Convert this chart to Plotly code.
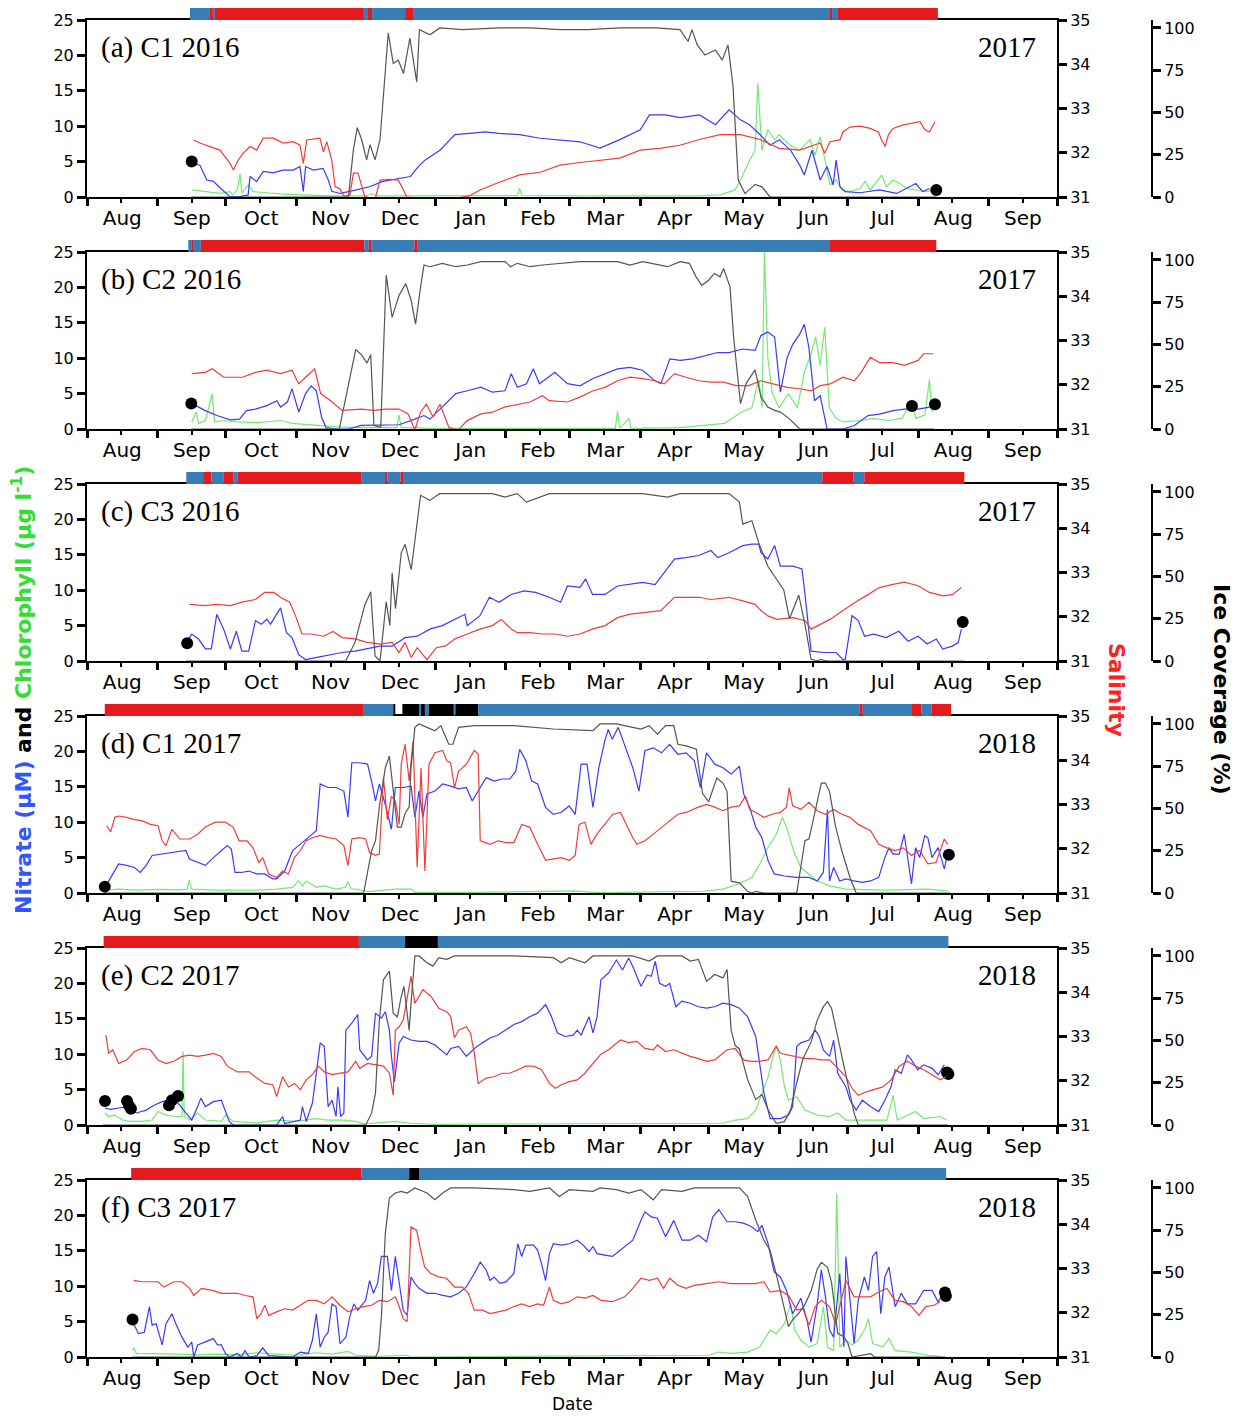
import plotly.graph_objects as go
import pandas as pd

W, H = 1244, 1416
PLOT_L, PLOT_R = 87, 1057
ICE_X = 1152
TOPS = [20, 252, 484, 716, 948, 1180]
PH = 177

NO3_C = "#3a3aff"
SAL_C = "#f03c3c"
CHL_C = "#72ea72"
ICE_C = "#555555"
BAR_COL = {"r": "#e41a1c", "b": "#377eb8", "k": "#000000"}

# ---------------- data: (days since 1 Aug of first year, value) ----------------
# ---- (a) C1 2016 ----
A_NO3 = [(46,4.8),(49.6,4.5),(52.6,2.4),(55.5,2.2),(58.4,1.3),(62.8,0.05),(67,0.05),(70.8,0.3),(71.6,2.9),(74.5,2.2),(77.4,3.6),(81.8,3.4),(86,3.8),(90.6,3.8),(93.5,4.3),(95,0.8),(96,4.3),(99.4,3.8),(103.7,4.05),(106,2.4),(107.5,0.8),(111,0.5),(115.5,0.8),(120,1.2),(124,1.45),(130,2.2),(137.5,2.6),(142,2.9),(145.5,4.3),(148.4,5.2),(155,6.6),(161.6,8.8),(168,9.0),(174.8,9.2),(181,9.0),(190,8.8),(199,8.3),(207.7,8.1),(216.5,7.8),(225.3,6.9),(234,8.1),(243,9.5),(247,11.6),(254,11.6),(260.5,11.2),(269,11.6),(276,10.2),(282,12.3),(287,10.9),(291,10.2),(295.6,8.8),(300,7.3),(304,8.1),(309,6.6),(313,4.5),(315,3.1),(318.4,6.6),(322,2.4),(325,4.3),(327.7,1.7),(329,5.2),(330.7,1.45),(333,0.75),(339.5,0.6),(348,1.0),(355.6,0.5),(364,1.9),(367,0.75),(370,1.2)]
A_SAL = [(46.7,32.29),(49.6,32.22),(54,32.14),(58.4,32.06),(62.8,31.76),(64.3,31.61),(66.4,31.83),(68.6,31.99),(71.6,32.14),(74.5,32.06),(77.4,32.33),(81.8,32.33),(86.2,32.22),(90.6,32.25),(93.5,32.17),(95,31.76),(96.5,32.29),(102.3,32.33),(103.8,32.02),(105.3,32.25),(107.5,31.83),(109,31.23),(111,31.19),(113,31.01),(115.5,31.05),(117,31.54),(119,31.54),(120.6,31.23),(122,31.01),(126.5,30.95),(128.7,31.38),(133,31.40),(136.7,31.38),(139,31.16),(140.4,31.0),(150,30.95),(160,30.95),(168,31.03),(172.6,31.16),(181.4,31.34),(190,31.50),(199,31.56),(207.7,31.72),(216.5,31.78),(225.3,31.83),(234,31.88),(243,32.06),(251.6,32.10),(260.4,32.17),(269,32.30),(278,32.41),(287,32.41),(295.6,32.30),(304,32.10),(313,32.06),(319.7,32.17),(322,32.22),(324,31.99),(326.3,32.25),(330.7,32.29),(332,32.47),(335,32.58),(339.5,32.60),(344,32.55),(347.5,32.47),(349,32.29),(350.5,32.14),(352,32.41),(354,32.55),(358.5,32.63),(363,32.68),(365.8,32.70),(368,32.52),(370,32.47),(372.4,32.70)]
A_ICE = [(46,0),(114.8,0),(117,28),(118.7,41),(120.6,34),(122.8,22),(124.3,31),(126.5,22),(128.7,34),(131,77),(132.3,97),(134.5,79),(136.7,81),(139,73),(141.8,94),(144.8,68),(146,99),(150.6,96),(155,100),(165,99),(181,100),(195,100),(207.7,99),(220,99),(234,100),(250,100),(260.4,99),(264,92),(265.7,99),(268,90),(271.4,84),(276,87),(279,81),(281.5,90),(283.7,66),(286,10),(289,2),(293.4,7.5),(296.4,6),(300,0),(373,0)]
A_CHL = [(46,1.0),(52.6,0.75),(58.4,0.5),(62.8,0.75),(64,0.3),(66,1.0),(67.2,3.3),(68,0.5),(69.4,1.2),(70.8,1.7),(73,0.75),(79,0.6),(86,0.4),(93.5,0.3),(108,0.15),(122.8,0.15),(125,0.5),(127,0.15),(144.8,0.15),(170,0.15),(189,0.2),(190,1.2),(191,0.2),(230,0.15),(269,0.15),(278,0.3),(284.6,1.0),(287,2.4),(289,3.8),(291,5.2),(293.4,6.6),(294.6,16.1),(296.4,6.6),(299,9.5),(302,8.1),(304,8.8),(308.7,7.3),(313,6.6),(317.5,8.1),(319.7,5.9),(322,8.5),(323.4,6.2),(325,3.4),(326.3,1.7),(329,2.4),(331.4,1.0),(335,0.75),(339.5,1.2),(341.7,2.2),(344,1.0),(349,3.1),(351,1.45),(354,2.4),(357,1.9),(360,1.2),(364.4,1.0),(368.7,0.75),(371.7,1.0)]
A_DOTS = [(46,5.0),(373,1.0)]
A_BAR = [("b",45.2,54),("r",54,55.3),("b",55.3,56.2),("r",56.2,121.6),("b",121.6,123.4),("r",123.4,125.2),("b",125.2,139.7),("r",139.7,143.2),("b",143.2,326.3),("r",326.3,327.2),("b",327.2,329.8),("r",329.8,373.7)]

# ---- (b) C2 2016 ----
B_NO3 = [(47.8,3.3),(52,2.6),(57,1.9),(63,1.3),(67,1.4),(70,2.6),(74,2.8),(79,3.3),(83.4,4.0),(85,3.1),(88,3.8),(90,5.7),(93,2.4),(96,5.0),(98.5,6.1),(100.7,5.4),(103,1.7),(105,0.2),(109.5,0),(115,0),(120.4,0.5),(129,0.5),(137,0.6),(144,1.4),(148,1.9),(150.6,1.4),(156,3.1),(162,5.0),(167,5.4),(173,5.9),(178,5.2),(183.6,5.4),(186.3,7.8),(189,5.9),(193,6.4),(196,8.5),(198.7,6.4),(205.5,8.0),(211,6.4),(216.5,6.1),(222,7.1),(227.5,7.8),(233,8.5),(238.5,8.7),(244,8.3),(249.5,6.8),(252,6.4),(256,9.9),(260.5,9.7),(266,9.9),(271.5,10.4),(277,10.8),(282,10.8),(288,11.3),(293.4,11.1),(296,13.2),(299,13.7),(302,13.0),(304.5,5.2),(307.5,10.1),(310,12.0),(313,13.4),(315,14.8),(317,11.6),(319.5,4.0),(322,4.7),(325,0),(332,0),(337,0.5),(343,1.9),(348,2.1),(354,2.6),(359,2.8),(365,2.8),(370,3.1)]
B_SAL = [(46,32.25),(52,32.28),(55,32.36),(60,32.17),(68.3,32.17),(74,32.28),(79,32.33),(85,32.25),(90,32.33),(93,32.02),(96,32.17),(100,32.36),(102.6,31.80),(107,31.64),(112,31.42),(120.5,31.45),(126,31.42),(131.4,31.45),(137,31.45),(141,31.34),(144,30.98),(146.5,31.38),(149,31.56),(152,31.27),(155,31.56),(159,31.03),(163,30.98),(167,31.19),(173,31.34),(178,31.38),(183.6,31.50),(189,31.56),(194.6,31.61),(200,31.75),(203,31.64),(211,31.61),(216.5,31.72),(222,31.86),(227.5,31.94),(233,32.09),(238.5,32.17),(244,32.14),(249.5,32.09),(253.6,32.02),(258,32.25),(263,32.17),(268.7,32.09),(274,32.06),(279.6,32.06),(285,31.98),(290.6,31.98),(296,32.09),(302,32.02),(307.5,31.94),(313,31.91),(318,31.86),(322,31.98),(326.5,32.02),(332,32.17),(337,32.09),(340,32.28),(344,32.62),(348,32.50),(354,32.50),(359,32.44),(365,32.55),(367.5,32.70),(371.6,32.70)]
B_ICE = [(46,0),(110.8,0),(118,47),(120.5,44),(123,39),(124.6,44),(126,2),(129,1),(131.4,91),(134,66),(137,79),(140,86),(142.4,76),(144.3,62),(146.5,84),(148,97),(150.6,96),(156,98),(162,96),(167,97),(173,99),(183.6,99),(186,96),(189,98),(194.6,96),(200,97),(216.5,99),(233,99),(238.5,97),(244,99),(255,96),(260.5,99),(264.5,98),(267.5,90),(270,85),(273,88),(275.5,92),(278,90),(279.6,95),(282.4,84),(284,54),(287,15),(289.5,27),(293.4,35),(296,19),(299,13),(302,11),(304.5,10),(308.5,6),(313,0),(372,0)]
B_CHL = [(46,1.0),(48,2.4),(49,0.8),(52,1.2),(55,5.0),(56,1.0),(60,1.2),(66,1.0),(75,0.9),(85,1.2),(90,0.8),(100,0.5),(110,0.3),(120,0.2),(136,0.2),(137,2.0),(138,0.2),(145,0.2),(150,0.1),(200,0.1),(232,0.1),(233,2.5),(234,0.1),(238,1.5),(239,0.1),(260,0.2),(271,0.5),(280,0.8),(288,2.5),(292,3.0),(295,7.0),(296.5,3.0),(297.5,25),(299,10),(301,5),(304,3),(308,5),(312,3),(315,8),(318,10.6),(320,13),(322,9),(324,14.4),(326,3),(329,1.5),(332,1.0),(340,1.2),(345,1.5),(352,1.2),(358,1.5),(362,4.0),(364,1.5),(368,2.0),(370,7.0),(371,2.5),(373,3.0)]
B_DOTS = [(45.8,3.6),(362.3,3.25),(372.4,3.5)]
B_BAR = [("b",44.5,45.8),("r",45.8,46.9),("b",46.9,50),("r",50,121.8),("b",121.8,123.7),("r",123.7,124.8),("b",124.8,143.8),("r",143.8,145),("b",145,326.3),("r",326.3,373)]

# ---- (c) C3 2016 ----
C_NO3 = [(43.6,2.6),(46,3.8),(49,3.1),(52,1.7),(54.6,1.7),(57,6.6),(60,4.5),(63,1.7),(65.6,4.2),(68,1.4),(71,1.4),(74,5.7),(76.6,5.2),(79,5.9),(80.6,5.2),(85,7.5),(87.6,4.0),(90,3.3),(93,0.9),(96,0.2),(101,0.5),(107,0.9),(112,1.2),(117.7,1.4),(123,1.7),(128.7,2.1),(134,2.1),(139.7,3.3),(145,3.5),(150.6,4.5),(156,5.0),(161.6,5.9),(166,6.6),(167,5.0),(172.6,6.4),(176.7,9.0),(181,8.3),(186.3,9.4),(192,9.9),(197,9.7),(203,9.0),(208,8.3),(211,10.6),(216.5,10.4),(219,11.6),(222,9.4),(227.5,9.4),(233,10.6),(238.5,10.8),(244,11.1),(249.5,10.8),(253.6,12.5),(258,14.4),(263,14.6),(268.7,14.9),(274,15.6),(277,14.6),(282,15.3),(288,16.3),(292,16.5),(295,16.5),(296,15.3),(299,14.4),(302,16.3),(304.5,13.4),(310,13.4),(314,13.0),(315.4,9.2),(318,1.4),(323.6,1.2),(329,1.2),(332,0.2),(333,0.2),(336,6.4),(338.7,5.7),(341.5,3.5),(345.5,3.8),(351,3.3),(356.5,4.2),(360.6,2.8),(365,3.5),(369,2.4),(373,3.1),(375.8,1.7),(380,2.1),(382.6,2.6),(384,4.5)]
C_SAL = [(45,32.28),(52,32.25),(57,32.28),(63,32.25),(68,32.33),(74,32.39),(78,32.55),(82,32.55),(85,32.44),(89,32.33),(91.6,32.02),(94.4,31.61),(98.5,31.61),(104,31.56),(108,31.67),(112,31.53),(117.7,31.50),(123,31.42),(128.7,31.38),(134,31.42),(137,31.19),(139.7,31.42),(142.4,31.08),(145,31.30),(149.3,31.03),(153.4,31.30),(157.5,31.34),(161.6,31.50),(167,31.61),(172.6,31.72),(178,31.80),(182,31.94),(186.3,31.72),(189,31.64),(194.6,31.64),(200,31.61),(205.5,31.61),(211,31.56),(216.5,31.61),(222,31.72),(227.5,31.80),(233,31.98),(238.5,32.06),(244,32.09),(252,32.14),(258,32.44),(263,32.44),(268.7,32.44),(274,32.39),(282,32.44),(288,32.36),(293.4,32.28),(296,32.14),(299,32.02),(303,31.94),(310,31.98),(315.4,31.91),(318,31.72),(321,31.80),(326.3,31.94),(332,32.14),(337.4,32.33),(343,32.50),(348,32.66),(354,32.73),(359,32.78),(365,32.70),(370,32.55),(375.8,32.47),(380,32.50),(384,32.66)]
C_ICE = [(43.6,0),(113.6,0),(117.7,11),(122,33),(124.6,41),(126.5,3),(128.7,0),(131.4,35),(133,21),(134,52),(135.5,31),(138,64),(139.7,69),(142.4,54),(146.5,98),(150.6,95),(154.8,99),(161.6,99),(178,99),(183.6,97),(189,99),(193,94),(198.7,97),(203,99),(244,99),(255,97),(260.5,99),(282,99),(286.5,94),(288,81),(292,83),(295,70),(299,56),(302,50),(306,42),(308.5,25),(312.6,39),(315.4,21),(318,1),(321,0),(322,1),(325,0),(385,0)]
C_CHL = []
C_DOTS = [(44,2.5),(384.6,5.5)]
C_BAR = [("b",43.6,51),("r",51,54.6),("b",54.6,60.1),("r",60.1,64.2),("b",64.2,66.1),("r",66.1,120.4),("b",120.4,130.9),("r",130.9,132),("b",132,137.7),("r",137.7,138.8),("b",138.8,323),("r",323,336.7),("b",336.7,341.4),("r",341.4,385.3)]

# ---- (d) C1 2017 ----
D_NO3 = [(8.3,1.0),(10.4,2.2),(13.9,4.1),(17.4,3.9),(20.8,3.6),(23.4,2.9),(26,3.9),(28.6,5.3),(33,5.5),(38.2,5.7),(43.4,6.0),(45,4.8),(48.6,4.3),(52,3.9),(55.5,5.0),(59,6.0),(61.6,6.7),(63.4,6.2),(65,2.9),(67.7,2.9),(71,3.1),(74.6,2.7),(78,2.7),(81.6,2.0),(83.3,2.0),(86.8,3.1),(90.3,6.0),(93.7,6.9),(97.2,7.8),(100.7,8.8),(102.4,15.4),(105.9,14.9),(109.4,14.9),(112.8,14.4),(114.6,10.7),(116.3,18.4),(119.8,18.4),(123.2,18.2),(125,15.8),(126.7,13.0),(128.4,15.4),(131,12.5),(133.7,9.0),(135.4,14.9),(138.9,14.9),(142.3,15.1),(144,10.7),(145.8,14.4),(147.5,10.7),(149.3,14.0),(152.8,14.4),(156.2,15.4),(159.7,15.1),(163.2,14.7),(166.6,14.9),(169.2,13.0),(171.8,14.4),(175.3,16.3),(178.8,15.8),(182.3,16.1),(185.7,16.1),(188.3,17.2),(190,20.3),(192.7,18.7),(195.3,15.8),(197.9,15.4),(201.4,12.1),(204.8,11.1),(208.3,11.4),(211.8,12.3),(214.4,11.1),(217,18.2),(219.6,18.2),(222.2,12.1),(224.8,17.7),(227.4,21.5),(228.9,23.1),(230.7,21.7),(233.3,23.4),(236,21.0),(239.7,17.7),(242.4,14.4),(245,20.1),(248.7,20.5),(252.3,19.8),(255.9,21.0),(259.5,19.6),(263.1,19.8),(266.7,18.7),(269.4,14.9),(272.1,19.8),(275.7,18.2),(279.3,17.7),(282.9,16.8),(286.5,17.9),(288.4,14.0),(291,12.1),(293.7,9.3),(296.4,7.8),(299.1,4.6),(301.8,2.7),(306.3,2.4),(311.7,2.2),(317.1,2.2),(320.7,1.7),(323.4,2.9),(325.2,11.8),(326.1,1.7),(327.9,3.6),(330.6,1.7),(333.3,2.0),(336.9,1.7),(340.5,1.5),(344.1,1.7),(347.7,2.2),(350.4,5.0),(352.2,6.4),(354,5.5),(356.7,5.5),(358.9,8.3),(360.3,5.0),(362.1,1.3),(363.9,6.4),(365.7,5.0),(367.9,8.1),(369.3,7.8),(371.1,5.0),(373.8,6.4),(376.5,3.4),(378,5.5)]
D_SAL = [(8.7,32.52),(10.4,32.38),(12.2,32.71),(13.9,32.74),(17.4,32.71),(20.8,32.66),(24.3,32.63),(27.8,32.55),(31.2,32.52),(33,32.18),(34.7,32.07),(37.3,32.44),(40.8,32.22),(45.1,32.22),(48.6,32.33),(52,32.49),(56.4,32.60),(60.8,32.60),(64.2,32.49),(66.8,32.18),(70.3,32.18),(72.9,32.02),(75.5,31.69),(77.2,31.80),(79.8,31.43),(83.3,31.35),(85.9,31.50),(88.5,31.43),(91.1,31.80),(93.7,31.96),(96.3,32.18),(99,32.25),(102.4,32.30),(105.9,32.25),(109.4,32.22),(112.8,32.07),(114.6,31.62),(116.3,32.22),(119.8,32.25),(122.4,32.22),(124.1,31.91),(126.7,31.85),(128.4,31.88),(130.2,33.61),(131.9,32.66),(133.7,33.19),(135.4,33.08),(137.1,32.55),(138,33.91),(139.7,34.36),(141.5,33.53),(143.2,34.44),(145,31.58),(145.8,32.63),(146.7,33.83),(148.4,31.50),(150.2,33.91),(152.8,34.17),(156.2,34.22),(158,33.99),(159.7,33.94),(161.4,33.38),(163.2,33.75),(166.6,33.91),(170.1,34.22),(171.8,34.14),(172.7,32.18),(177,32.10),(180.5,32.18),(184,32.14),(187.5,32.14),(190.9,32.55),(194.4,32.49),(197.9,32.10),(201.4,31.74),(204.8,31.77),(208.3,31.80),(211.8,31.74),(214.4,31.85),(216.1,32.55),(218.7,32.60),(221.3,32.10),(223.9,32.33),(227.4,32.55),(230.9,32.78),(234.3,32.82),(236,32.63),(239.7,32.25),(241.5,32.10),(245,32.18),(248.7,32.33),(252.3,32.49),(255.9,32.63),(259.5,32.78),(263.1,32.82),(268.5,32.94),(272.1,33.0),(275.7,32.94),(279.3,32.86),(282.9,32.94),(286.5,32.97),(289.2,33.19),(291,32.89),(293.7,32.82),(297.3,32.71),(300.9,32.78),(304.5,32.82),(307.2,32.94),(308.4,33.38),(309.9,32.97),(313.5,32.89),(317.1,33.05),(320.7,32.86),(324.3,32.78),(327.9,32.89),(331.5,32.78),(335.1,32.71),(338.7,32.55),(344.1,32.41),(347.7,32.10),(351.3,32.02),(354.9,31.96),(358.5,32.02),(362.1,31.85),(365.7,31.96),(369.3,31.66),(372.9,31.69),(376.5,32.22),(378,32.10)]
D_ICE = [(8,0),(121.5,0),(125,25),(126.7,31),(128.4,51),(131,74),(132.8,81),(134.5,60),(136.3,39),(138,39),(139.7,47),(141.5,51),(142.3,74),(144,98),(145.8,100),(149.3,98),(152.8,96),(155.4,99),(158.9,88),(160.7,88),(163.2,98),(170.1,99),(187.5,99),(204.8,97),(222.2,96),(225.3,100),(232.5,100),(239.7,98),(243.3,97),(246.9,99),(250.5,94),(254.1,99),(257.7,99),(259.5,88),(263.1,87),(267.6,85),(270.3,59),(273,54),(276.6,68),(279.3,65),(281.1,60),(282.9,7),(286.5,6),(290.1,1),(291.9,0),(293.7,1),(297.3,0),(311.7,0),(313.5,15),(315.3,31),(317.1,32),(318.9,43),(322.5,65),(324.3,65),(326.1,60),(328.8,39),(331.5,25),(335.1,9),(337.8,0),(379,0)]
D_CHL = [(8.3,0.4),(13.9,0.55),(22.6,0.4),(31.2,0.5),(40,0.45),(44,0.5),(44.8,1.8),(46,0.55),(57.3,0.4),(66,0.4),(74.6,0.4),(83.3,0.55),(90.3,0.8),(92.9,1.7),(94.6,1.0),(96.3,1.7),(100.7,0.8),(104.2,1.0),(109.4,0.55),(113.5,0.8),(114.6,1.6),(116,0.6),(118,0.55),(123.2,0.2),(135.4,0.55),(142.3,0.55),(144,0.1),(170,0.1),(213.5,0.3),(225,0.05),(270.3,0.25),(279.3,0.55),(286.5,1.3),(292,2.2),(295.5,4.1),(299,6.4),(302.7,8.3),(305.4,10.7),(307.2,9.3),(309,7.4),(310.8,5.5),(313.5,3.6),(317.1,2.7),(320.7,1.7),(326.1,1.0),(333.3,0.55),(351.3,0.4),(369.3,0.55),(378,0.3)]
D_DOTS = [(7.8,0.9),(378.5,5.4)]
D_BAR = [("r",7.8,121.2),("b",121.2,134.5),("k",134.5,135.4),("k",138.5,145.8),("b",145.8,146.7),("k",146.7,148.4),("b",148.4,150.1),("k",150.1,161.1),("b",161.1,161.8),("k",161.8,171.8),("b",171.8,339.3),("r",339.3,340.7),("b",340.7,362.3),("r",362.3,366.5),("b",366.5,371),("r",371,379.5)]

# ---- (e) C2 2017 ----
E_NO3 = [(7.8,2.4),(10.4,2.2),(13.9,2.4),(17.4,2.6),(21.7,1.7),(26,2.1),(29.5,2.8),(33,3.3),(36.5,3.5),(40,3.1),(43.4,1.7),(46,0.7),(48.6,2.6),(50,3.8),(52,2.6),(55.5,3.3),(59,3.5),(60.8,1.9),(62.5,0.5),(64.2,0),(83.3,0),(85.9,1.2),(86.8,0.2),(93.7,0.7),(94.6,2.6),(96.3,0.5),(99,3.1),(100.7,7.3),(102.4,11.6),(104.2,11.1),(105.9,2.6),(107.6,3.5),(109.4,1.2),(110.2,5.4),(111.4,1.2),(112.8,1.7),(113.7,13.4),(116.3,14.4),(118.9,15.6),(119.8,10.6),(123.2,9.2),(125,9.7),(126.7,15.8),(129.3,15.1),(131,16.0),(132.8,13.4),(133.7,9.7),(135,6.1),(137.1,11.6),(138.9,12.5),(142.3,12.0),(145.8,11.8),(149.3,11.8),(152.8,11.3),(156.2,10.4),(158,9.9),(159.7,10.8),(163.2,11.1),(166.6,9.7),(170.1,10.8),(173.6,11.6),(177,12.3),(180.5,12.7),(184,13.4),(187.5,14.2),(190.9,14.6),(194.4,15.3),(197.9,15.8),(201.4,17.0),(204,15.3),(206.6,13.0),(210,12.5),(213.5,12.7),(215.3,13.4),(217,12.7),(220.5,15.3),(222.2,13.0),(224,15.3),(225.7,20.5),(229.1,21.5),(232.5,23.3),(235.2,21.9),(237.9,23.6),(239.7,22.4),(243.3,19.6),(246,21.2),(247.8,21.0),(249.6,23.1),(251.4,20.0),(254.1,19.6),(255.9,20.0),(258.6,16.7),(261.3,17.5),(264.9,17.2),(268.5,16.7),(272.1,16.5),(275.7,16.7),(279.3,17.2),(282.9,17.0),(286.5,16.5),(290.1,15.3),(293.7,12.5),(295.5,8.3),(297.3,4.5),(300,0.9),(304.5,0.9),(308.1,1.4),(309.9,2.6),(311.7,11.1),(313.5,11.6),(317.1,12.0),(319.8,13.4),(321.6,12.5),(323.4,10.6),(326.1,9.7),(327.9,12.0),(329.7,7.3),(333.3,5.4),(335.1,3.5),(337.8,2.1),(340.5,3.5),(344.1,2.6),(347.7,1.9),(350.4,3.5),(353.1,5.4),(354.9,7.8),(357.6,7.3),(360.3,9.9),(362.1,9.2),(364.8,7.8),(367.5,8.5),(371.1,8.0),(373.8,7.1),(376.5,8.5)]
E_SAL = [(8.3,33.03),(9.5,32.62),(11.3,32.70),(13.9,32.39),(17.4,32.47),(20.8,32.66),(24.3,32.73),(27.8,32.70),(31.2,32.47),(34.7,32.39),(38.2,32.44),(41.7,32.55),(45.1,32.58),(48.6,32.55),(52,32.58),(55.5,32.62),(59,32.55),(61.6,32.33),(66,32.20),(71.2,32.20),(74.6,32.06),(78.1,31.94),(81.6,31.91),(83.3,31.64),(85.9,32.09),(88.5,31.86),(91.1,31.94),(93.7,31.80),(96.3,32.02),(99,32.14),(101.6,32.33),(104.2,32.20),(107.6,32.14),(111.1,32.17),(114.6,32.20),(118,32.44),(119.8,32.28),(123.2,32.39),(126.7,32.36),(130.2,32.33),(132.8,32.17),(134.5,31.67),(135.4,33.14),(137.1,33.22),(138.9,33.38),(142.3,34.36),(144,33.75),(147.5,34.06),(151,33.91),(154.5,33.64),(158,33.56),(159.7,33.45),(161.4,32.97),(163.2,33.14),(166.6,33.22),(168.4,33.08),(170.1,32.62),(171.8,31.94),(175.3,32.06),(178.8,32.09),(182.3,32.17),(185.7,32.17),(189.2,32.25),(192.7,32.33),(196.1,32.33),(199.6,32.25),(203.1,31.94),(205.7,31.83),(208.3,31.91),(211.8,31.98),(215.3,32.02),(218.7,32.17),(222.2,32.39),(225.7,32.60),(229.1,32.70),(234.3,32.92),(237.9,32.86),(241.5,32.89),(245,32.73),(248.7,32.70),(250.5,32.81),(254.1,32.66),(257.7,32.70),(261.3,32.62),(264.9,32.55),(268.5,32.50),(272.1,32.44),(275.7,32.47),(279.3,32.62),(281.1,32.70),(284.7,32.73),(288.3,32.47),(291.9,32.44),(295.5,32.44),(299.1,32.47),(302.7,32.78),(304.5,32.62),(308.1,32.58),(311.7,32.55),(315.3,32.50),(318.9,32.50),(322.5,32.47),(326.1,32.47),(328.8,32.33),(331.5,32.17),(333.3,32.09),(336,31.83),(338.7,31.67),(342.3,31.75),(345.9,31.80),(349.5,31.86),(353.1,32.02),(356.7,32.33),(360.3,32.44),(363.9,32.33),(367.5,32.25),(371.1,32.14),(374.7,32.02),(377.4,32.09)]
E_ICE = [(7,0),(122.4,0),(125,7),(126.7,19),(128.4,62),(130.2,86),(132.8,91),(134.5,66),(136.3,64),(138,76),(139.2,82),(140.6,64),(141.5,56),(142.3,72),(144,100),(145.8,100),(149.3,96),(151.9,94),(154.5,99),(158,98),(161.4,100),(187.5,100),(204.8,99),(208.3,96),(211.8,99),(218.7,96),(222.2,100),(239.7,100),(246.9,97),(250.5,100),(261.3,100),(264.9,97),(268.5,98),(272.1,85),(275.7,89),(279.3,87),(281.1,92),(282.9,56),(284.7,47),(286.5,45),(290.1,27),(293.7,15),(296.4,18),(299.1,9),(302.7,1),(306.3,2),(309,9),(311.7,25),(314.4,39),(318,49),(320.7,62),(323.4,70),(325.2,73),(327,69),(329.7,52),(331.5,39),(334.2,23),(336.9,7),(338.7,0),(378,0)]
E_CHL = [(7.8,1.7),(9.5,1.2),(12.2,1.4),(15.6,0.7),(19.1,0.5),(24.3,0.5),(28.6,0.7),(31.2,1.9),(34.7,1.4),(39,1.2),(41.7,1.2),(42.2,10.4),(42.7,1.2),(45.1,0.7),(48.6,1.7),(52,0.7),(59,0.5),(60.8,1.4),(64.2,0.5),(74.6,0.3),(83.3,0.7),(92,0.5),(100.7,0.9),(105.9,0.7),(112.8,0.7),(118,0.5),(121.5,0.15),(135.4,0.5),(142.3,0.25),(152.8,0.1),(279.3,0.25),(284.7,0.7),(290.1,0.9),(293.7,2.1),(296.4,4.5),(299.1,6.8),(300.9,9.2),(302.7,11.1),(304.5,9.2),(306.3,5.4),(308.1,3.5),(311.7,4.0),(315.3,2.1),(320.7,1.4),(326.1,1.2),(329.7,1.7),(333.3,0.7),(342.3,0.7),(351.3,0.7),(354,4.2),(355.8,0.7),(363.9,1.9),(367.5,0.9),(374.7,1.2),(377.4,0.7)]
E_DOTS = [(7.9,3.4),(17.6,3.4),(18.5,2.7),(19.3,2.3),(36,2.8),(37.3,3.5),(40,4.1),(377.7,7.4),(378.3,7.2)]
E_BAR = [("r",7.3,119.4),("b",119.4,139.7),("k",139.7,154.1),("b",154.1,378.3)]

# ---- (f) C3 2017 ----
F_NO3 = [(20.5,4.7),(22.6,3.3),(25.2,3.5),(27.4,7.1),(28.6,4.5),(30.4,4.7),(33,1.7),(34.7,4.7),(37.3,6.1),(39,4.7),(41.7,2.8),(44.3,1.4),(46,2.1),(46.9,0),(48.6,1.7),(52,2.1),(55.5,2.6),(57.3,1.7),(59,1.7),(60.8,0.5),(62.5,0),(66,0.5),(67.7,0),(69.4,0.9),(71.2,0),(74.6,0.2),(77.2,1.3),(79.8,0.2),(90.3,0),(93.7,0.7),(97.2,0.5),(99,2.4),(100.7,6.1),(102.4,1.4),(104.2,2.8),(105.9,3.5),(107.6,7.5),(109.4,7.1),(111.1,1.9),(113.7,2.8),(115.4,5.7),(117.2,7.5),(118.9,6.6),(120.6,7.3),(122.4,8.0),(124.1,10.8),(125.8,9.0),(127.6,10.4),(129.3,14.2),(131.9,14.2),(133.7,9.4),(135.4,14.2),(137.1,10.4),(138.9,6.6),(140.6,5.9),(142.3,11.3),(144,10.4),(145.8,9.7),(149.3,9.0),(152.8,9.0),(156.2,8.7),(159.7,8.5),(163.2,9.0),(166.6,9.9),(170.1,11.8),(172.7,13.4),(175.3,12.3),(177,10.8),(178.8,11.3),(181.4,10.4),(184,10.6),(187.5,11.8),(189.2,16.0),(190.9,14.2),(192.7,15.8),(196.1,15.8),(197.9,15.1),(199.6,13.2),(201.4,10.8),(203.1,14.6),(204.8,16.0),(208.3,15.8),(211.8,16.0),(215.3,16.5),(217.9,15.8),(220.5,14.9),(222.2,15.6),(224,14.6),(227.4,14.4),(230.7,14.2),(234.3,15.1),(239.7,16.5),(243.3,19.3),(245,20.5),(247.8,19.8),(250.5,19.6),(254.1,17.0),(257.7,19.3),(261.3,16.5),(264.9,16.5),(268.5,17.2),(272.1,16.3),(274.8,19.8),(277.5,20.8),(281.1,19.1),(284.7,19.1),(288.3,18.9),(291.9,18.4),(294.6,17.7),(296.4,18.6),(299.1,16.0),(301.8,12.0),(304.5,11.3),(307.2,9.4),(309.9,6.1),(311.7,7.1),(313.5,8.3),(316.2,5.2),(318,2.1),(320.7,7.5),(322.5,12.3),(324.3,8.5),(326.1,3.8),(327.9,2.8),(329.7,9.0),(330.6,11.8),(332.4,1.4),(333.3,14.2),(335.1,8.0),(336.9,1.9),(338.7,8.0),(341.4,11.3),(343.2,9.4),(345,14.2),(346.8,14.9),(348.6,6.1),(350.4,11.3),(352.2,12.7),(354.9,7.1),(357.6,9.0),(360.3,7.5),(363.9,7.5),(367.5,9.4),(371.1,9.4),(373.8,7.8),(376.2,9.0)]
F_SAL = [(20.5,32.73),(24.3,32.70),(27.8,32.70),(31.2,32.70),(33.8,32.58),(38.2,32.70),(41.7,32.70),(45.1,32.55),(46.9,32.39),(50.3,32.55),(55.5,32.50),(59,32.44),(62.5,32.44),(66,32.44),(69.4,32.39),(72.9,32.36),(74.6,31.86),(76.4,31.98),(78.1,32.17),(79.8,31.94),(83.3,32.02),(86.8,32.09),(90.3,32.06),(93.7,32.17),(97.2,32.28),(100.7,32.28),(104.2,32.20),(107.6,32.36),(111.1,32.17),(114.6,32.02),(118,32.09),(121.5,32.14),(125,32.17),(128.4,32.28),(131.9,32.25),(135.4,32.36),(137.1,32.14),(138.9,31.86),(140.6,31.80),(142.3,33.94),(144.8,33.86),(146.5,33.42),(148.3,33.03),(150.9,32.89),(154.4,32.81),(157.9,32.78),(161.4,32.58),(164.9,32.58),(167.5,32.44),(170.1,32.06),(173.6,32.06),(177,31.98),(180.5,32.02),(184,32.06),(187.5,32.14),(190.9,32.20),(194.4,32.14),(197.9,32.20),(200.5,32.17),(203.1,32.58),(204.8,32.28),(208.3,32.20),(211.8,32.25),(215.3,32.36),(218.7,32.33),(222.2,32.39),(225.7,32.28),(230.7,32.25),(236.1,32.36),(239.7,32.55),(243.3,32.78),(246.9,32.73),(250.5,32.78),(253.2,32.55),(255.9,32.78),(259.5,32.62),(263.1,32.55),(266.7,32.62),(272.1,32.66),(277.5,32.70),(282.9,32.66),(288.3,32.66),(293.7,32.66),(297.3,32.70),(300,32.47),(304.5,32.50),(308.1,32.39),(311.7,32.06),(314.4,32.09),(317.1,31.72),(319.8,32.14),(322.5,32.28),(326.1,32.14),(328.8,31.75),(331.5,32.33),(333.3,32.73),(336.9,32.36),(340.5,32.36),(344.1,32.36),(347.7,32.47),(351.3,32.55),(354.9,32.28),(358.5,32.25),(362.1,32.14),(365.4,31.94),(368.4,32.14),(372,32.17),(374.7,32.25)]
F_ICE = [(20,0),(126.7,0),(128.1,4),(129.3,24),(131,73),(132.8,94),(135.4,97),(138,98),(140.6,97),(144,100),(149.3,97),(152.8,93),(156.2,97),(159.7,100),(170,100),(187.5,99),(194.4,98),(203.1,100),(207.4,95),(211.8,99),(222.2,98),(225.3,100),(232.5,99),(237.9,97),(243.3,99),(248.7,93),(252.3,99),(261.3,98),(266.7,100),(286.5,100),(290.1,95),(293.7,81),(297.3,69),(300,63),(302.7,49),(304.5,39),(306.3,28),(308.1,18),(309.9,22),(312.6,26),(315.3,31),(318,39),(320.7,52),(322.5,56),(325.2,53),(327,44),(329.7,14),(332.4,12),(334.2,8),(336,0),(344.1,2),(345.9,0),(377,0)]
F_CHL = [(20,0.9),(20.5,1.3),(21.7,0.5),(31.2,0.5),(40,0.4),(48.6,0.3),(57.3,0.4),(66,0.3),(74.6,0.6),(83.3,0.4),(92,0.25),(100.7,0.6),(107.6,0.4),(114.6,0.8),(118,0.25),(126.7,0.1),(140.6,0.25),(142.3,0),(273,0.25),(277.5,0.7),(282.9,0.5),(290.1,0.7),(295.5,1.4),(297.3,2.4),(300,3.8),(302.7,3.3),(306.3,4.7),(309,7.5),(310.8,3.8),(313.5,2.4),(317.1,1.4),(320.7,1.9),(323.4,7.1),(325.2,1.4),(327.9,0.9),(329.3,23.1),(330.6,1.4),(333.3,2.4),(336,1.7),(338.7,2.4),(341.4,3.8),(343.2,5.4),(345,1.9),(349.5,1.4),(352.2,2.6),(354.9,0.9),(362.1,0.7),(369.3,0.25),(374.7,0.1)]
F_DOTS = [(20,5.3),(376.8,9.1),(377.2,8.6)]
F_BAR = [("r",19.4,120.6),("b",120.6,141.5),("k",141.5,145.8),("b",145.8,377.3)]

PANELS = [
    dict(label="(a) C1 2016", year2="2017", y0=2016, no3=A_NO3, sal=A_SAL, ice=A_ICE, chl=A_CHL, dots=A_DOTS, bar=A_BAR),
    dict(label="(b) C2 2016", year2="2017", y0=2016, no3=B_NO3, sal=B_SAL, ice=B_ICE, chl=B_CHL, dots=B_DOTS, bar=B_BAR),
    dict(label="(c) C3 2016", year2="2017", y0=2016, no3=C_NO3, sal=C_SAL, ice=C_ICE, chl=C_CHL, dots=C_DOTS, bar=C_BAR),
    dict(label="(d) C1 2017", year2="2018", y0=2017, no3=D_NO3, sal=D_SAL, ice=D_ICE, chl=D_CHL, dots=D_DOTS, bar=D_BAR),
    dict(label="(e) C2 2017", year2="2018", y0=2017, no3=E_NO3, sal=E_SAL, ice=E_ICE, chl=E_CHL, dots=E_DOTS, bar=E_BAR),
    dict(label="(f) C3 2017", year2="2018", y0=2017, no3=F_NO3, sal=F_SAL, ice=F_ICE, chl=F_CHL, dots=F_DOTS, bar=F_BAR),
]

LEFT_TICKS = [0, 5, 10, 15, 20, 25]
SAL_TICKS = [31, 32, 33, 34, 35]
ICE_TICKS = [0, 25, 50, 75, 100]


def axname(prefix, n):
    return prefix if n == 1 else f"{prefix}{n}"


fig = go.Figure()
layout = {}
shapes = []
annotations = []
TICKFONT_Y = dict(family="DejaVu Sans", size=16, color="black")
TICKFONT_X = dict(family="DejaVu Sans", size=20, color="black")

for k, p in enumerate(PANELS):
    xid, yl, ys, yi = k + 1, 3 * k + 1, 3 * k + 2, 3 * k + 3
    xr, ylr, ysr, yir = axname("x", xid), axname("y", yl), axname("y", ys), axname("y", yi)
    base = pd.Timestamp(f"{p['y0']}-08-01")
    end = pd.Timestamp(f"{p['y0'] + 1}-10-01")

    def dts(pairs):
        return [base + pd.Timedelta(days=d) for d, _ in pairs]

    def vals(pairs):
        return [v for _, v in pairs]

    top = TOPS[k]
    dom_y = [1 - (top + PH) / H, 1 - top / H]
    month_starts = pd.date_range(base, end, freq="MS")
    mids = [(m + pd.Timedelta(days=15)).strftime("%Y-%m-%d") for m in month_starts[:-1]]

    layout[axname("xaxis", xid)] = dict(
        domain=[PLOT_L / W, PLOT_R / W], anchor=ylr, type="date",
        range=[base.strftime("%Y-%m-%d"), end.strftime("%Y-%m-%d")],
        tickmode="linear", tick0=base.strftime("%Y-%m-%d"), dtick="M1", tickformat="%b",
        ticklabelmode="period", ticks="outside", ticklen=7, tickwidth=2.5, tickcolor="black",
        ticklabelstandoff=-5,
        showline=True, mirror=True, linecolor="black", linewidth=2,
        showgrid=False, zeroline=False, tickfont=TICKFONT_X, automargin=False,
        minor=dict(tickvals=mids, ticks="outside", ticklen=4, tickwidth=2, tickcolor="black", showgrid=False),
    )
    layout[axname("yaxis", yl)] = dict(
        domain=dom_y, anchor=xr, range=[0, 25], tickvals=LEFT_TICKS,
        ticks="outside", ticklen=8, tickwidth=2.5, tickcolor="black",
        showline=True, mirror=True, linecolor="black", linewidth=2,
        showgrid=False, zeroline=False, tickfont=TICKFONT_Y, automargin=False,
    )
    layout[axname("yaxis", ys)] = dict(
        overlaying=ylr, anchor=xr, side="right", range=[31, 35], tickvals=SAL_TICKS,
        ticks="outside", ticklen=8, tickwidth=2.5, tickcolor="black",
        showline=True, linecolor="black", linewidth=2,
        showgrid=False, zeroline=False, tickfont=TICKFONT_Y, automargin=False,
    )
    layout[axname("yaxis", yi)] = dict(
        overlaying=ylr, anchor="free", position=ICE_X / W, side="right", range=[0, 104.7],
        tickvals=ICE_TICKS, ticks="outside", ticklen=8, tickwidth=2.5, tickcolor="black",
        showline=True, linecolor="black", linewidth=2,
        showgrid=False, zeroline=False, tickfont=TICKFONT_Y, automargin=False,
    )

    if p["chl"]:
        fig.add_trace(go.Scatter(x=dts(p["chl"]), y=vals(p["chl"]), mode="lines",
                                 line=dict(color=CHL_C, width=1.2), xaxis=xr, yaxis=ylr, showlegend=False))
    fig.add_trace(go.Scatter(x=dts(p["no3"]), y=vals(p["no3"]), mode="lines",
                             line=dict(color=NO3_C, width=1.2), xaxis=xr, yaxis=ylr, showlegend=False))
    fig.add_trace(go.Scatter(x=dts(p["dots"]), y=vals(p["dots"]), mode="markers",
                             marker=dict(color="black", size=12), cliponaxis=False,
                             xaxis=xr, yaxis=ylr, showlegend=False))
    fig.add_trace(go.Scatter(x=dts(p["sal"]), y=vals(p["sal"]), mode="lines",
                             line=dict(color=SAL_C, width=1.2), xaxis=xr, yaxis=ysr, showlegend=False))
    fig.add_trace(go.Scatter(x=dts(p["ice"]), y=vals(p["ice"]), mode="lines",
                             line=dict(color=ICE_C, width=1.2), xaxis=xr, yaxis=yir, showlegend=False))

    for c, d0, d1 in p["bar"]:
        shapes.append(dict(type="rect", xref=xr, yref=f"{ylr} domain",
                           x0=base + pd.Timedelta(days=d0), x1=base + pd.Timedelta(days=d1),
                           y0=1.0, y1=1.0 + 12 / PH, fillcolor=BAR_COL[c], line=dict(width=0), layer="above"))

    annotations.append(dict(text=p["label"], xref=f"{xr} domain", yref=f"{ylr} domain",
                            x=0.012, y=0.845, xanchor="left", yanchor="middle", showarrow=False,
                            font=dict(family="Liberation Serif", size=29, color="black")))
    annotations.append(dict(text=p["year2"], xref=f"{xr} domain", yref=f"{ylr} domain",
                            x=0.98, y=0.845, xanchor="right", yanchor="middle", showarrow=False,
                            font=dict(family="Liberation Serif", size=29, color="black")))

annotations.append(dict(
    text=("<b><span style='color:#3355ff'>Nitrate (µM)</span> and "
          "<span style='color:#33dd33'>Chlorophyll (µg l<sup>-1</sup>)</span></b>"),
    xref="paper", yref="paper", x=22 / W, y=1 - 690 / H, textangle=-90, showarrow=False,
    xanchor="center", yanchor="middle", font=dict(family="DejaVu Sans", size=22, color="black")))
annotations.append(dict(text="<b>Salinity</b>", xref="paper", yref="paper", x=1117 / W, y=1 - 690 / H,
                        textangle=90, showarrow=False, xanchor="center", yanchor="middle",
                        font=dict(family="DejaVu Sans", size=22, color="#ff2020")))
annotations.append(dict(text="<b>Ice Coverage (%)</b>", xref="paper", yref="paper", x=1222 / W, y=1 - 689 / H,
                        textangle=90, showarrow=False, xanchor="center", yanchor="middle",
                        font=dict(family="DejaVu Sans", size=22, color="black")))
annotations.append(dict(text="Date", xref="paper", yref="paper", x=572 / W, y=1 - 1404 / H,
                        showarrow=False, xanchor="center", yanchor="middle",
                        font=dict(family="DejaVu Sans", size=17, color="black")))

fig.update_layout(**layout)
fig.update_layout(width=W, height=H, autosize=False, margin=dict(l=0, r=0, t=0, b=0),
                  paper_bgcolor="white", plot_bgcolor="white", showlegend=False,
                  shapes=shapes, annotations=annotations)
fig.write_html("out.html", config={"displayModeBar": False},
               post_script="document.body.style.margin='0px';document.body.style.padding='0px';")
